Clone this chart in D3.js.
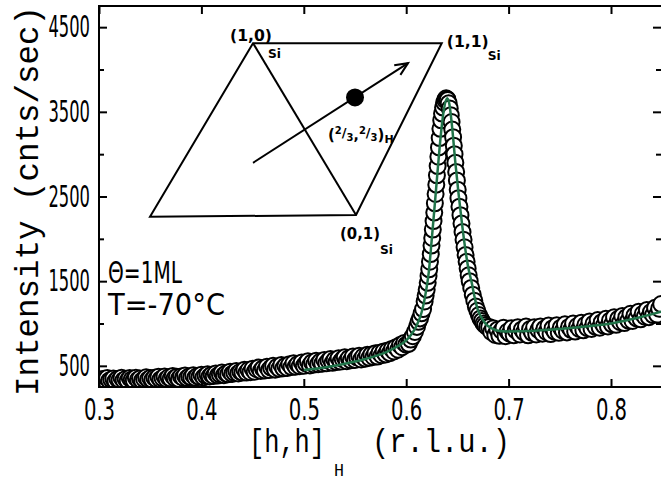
<!DOCTYPE html>
<html>
<head>
<meta charset="utf-8">
<script src="https://cdnjs.cloudflare.com/ajax/libs/d3/7.8.5/d3.min.js"></script>
<style>
  body { margin: 0; background: #fff; }
  text { fill: #000; }
</style>
</head>
<body>
<div id="chart"></div>
<script>

// axis ticks
var xTicks = [0.3, 0.4, 0.5, 0.6, 0.7, 0.8];
var yMajor = [500, 1500, 2500, 3500, 4500];
var yMinor = [1000, 2000, 3000, 4000];

// measured scan [h, intensity]
var scanLow = [
  [0.300,340],[0.302,320],[0.304,345],[0.306,330],[0.308,355],[0.310,325],[0.312,340],[0.314,350],
  [0.316,320],[0.318,345],[0.320,335],[0.322,360],[0.324,330],[0.326,345],[0.328,325],[0.330,355],
  [0.332,340],[0.334,330],[0.336,360],[0.338,335],[0.340,350],[0.342,325],[0.344,345],[0.346,365],
  [0.348,340],[0.350,355],[0.352,335],[0.354,360],[0.356,345],[0.358,370],[0.360,340],[0.362,355],
  [0.364,375],[0.366,345],[0.368,365],[0.370,350],[0.372,380],[0.374,355],[0.376,370],[0.378,345],
  [0.380,375],[0.382,360],[0.384,385],[0.386,355],[0.388,375],[0.390,365],[0.392,390],[0.394,360],
  [0.396,380],[0.398,370],[0.400,395],[0.402,365],[0.404,385],[0.406,400],[0.408,375],[0.410,395],
  [0.412,380],[0.414,410],[0.416,385],[0.418,400],[0.420,420],[0.422,390],[0.424,410],[0.426,400],
  [0.428,430],[0.430,405],[0.432,420],[0.434,440],[0.436,410],[0.438,430],[0.440,420],[0.442,455],
  [0.444,420],[0.446,450],[0.448,425],[0.450,465],[0.452,430],[0.454,460],[0.456,480],[0.458,440],
  [0.460,470],[0.462,445],[0.464,490],[0.466,450],[0.468,480],[0.470,500],[0.472,455],[0.474,490],
  [0.476,465],[0.478,510],[0.480,470],[0.482,500],[0.484,475],[0.486,520],[0.488,485],[0.490,530],
  [0.492,490],[0.494,520],[0.496,495],[0.498,540],[0.500,500],[0.502,530],[0.504,555],[0.506,505],
  [0.508,540],[0.510,515],[0.512,560],[0.514,520],[0.516,550],[0.518,525],[0.520,570],[0.522,530],
  [0.524,560],[0.526,580],[0.528,535],[0.530,570],[0.532,545],[0.534,590],[0.536,550],[0.538,580],
  [0.540,600],[0.542,555],[0.544,590],[0.546,565],[0.548,610],[0.550,570],[0.552,600],[0.554,620],
  [0.556,575],[0.558,610],[0.560,585],[0.562,630],[0.564,595],[0.566,635],[0.568,605],[0.570,650],
  [0.572,610],[0.574,655],[0.576,625],[0.578,670],[0.580,635],[0.582,680],[0.584,650],[0.586,700],
  [0.588,670],[0.590,720],[0.592,690],[0.594,745],[0.596,720],[0.598,770],[0.600,750]
];

var scanPeak = [
  [0.6025,760],[0.6045,810],[0.6065,850],[0.6085,900],[0.6105,960],[0.612,1020],[0.6135,1060],
  [0.615,1120],[0.6165,1170],[0.618,1260],[0.619,1330],[0.620,1400],[0.621,1480],[0.6218,1560],
  [0.6225,1640],[0.6232,1730],[0.624,1820],[0.6247,1920],[0.6254,2010],[0.626,2110],[0.6267,2210],
  [0.6274,2310],[0.628,2420],[0.6287,2530],[0.6294,2640],[0.630,2750],[0.6307,2860],[0.6314,2970],
  [0.632,3080],[0.6327,3190],[0.6334,3300],[0.6342,3400],[0.635,3480],[0.636,3550],[0.637,3610],
  [0.638,3640],[0.639,3660],[0.640,3650],
  [0.6405,3640],[0.6415,3600],[0.6425,3540],[0.6435,3460],[0.6443,3380],[0.645,3290],[0.6458,3200],
  [0.6465,3100],[0.6472,3000],[0.648,2900],[0.6488,2790],[0.6495,2690],[0.6503,2580],[0.651,2480],
  [0.652,2380],[0.653,2280],[0.654,2180],[0.655,2080],[0.656,1990],[0.657,1900],[0.658,1810],
  [0.659,1730],[0.660,1650],[0.661,1570],[0.662,1500],[0.6635,1420],[0.665,1340],[0.6665,1270],
  [0.668,1200],[0.6695,1150],[0.671,1100],[0.6725,1060],[0.674,1030],[0.6755,1000],[0.677,980],
  [0.679,960]
];

var scanHigh = [
  [0.681,960],[0.683,900],[0.685,945],[0.687,865],[0.689,925],[0.691,855],[0.693,915],[0.695,950],
  [0.697,850],[0.699,905],[0.701,880],[0.703,945],[0.705,860],[0.707,920],[0.709,955],[0.711,870],
  [0.713,930],[0.715,895],[0.717,965],[0.719,860],[0.721,935],[0.723,890],[0.725,955],[0.727,870],
  [0.729,925],[0.731,965],[0.733,880],[0.735,940],[0.737,900],[0.739,975],[0.741,875],[0.743,945],
  [0.745,905],[0.747,980],[0.749,890],[0.751,950],[0.753,915],[0.755,990],[0.757,895],[0.759,960],
  [0.761,925],[0.763,1000],[0.765,905],[0.767,970],[0.769,935],[0.771,1010],[0.773,920],[0.775,985],
  [0.777,945],[0.779,1025],[0.781,935],[0.783,1000],[0.785,960],[0.787,1040],[0.789,950],[0.791,1015],
  [0.793,975],[0.795,1055],[0.797,965],[0.799,1035],[0.801,990],[0.803,1075],[0.805,985],[0.807,1055],
  [0.809,1015],[0.811,1090],[0.813,1005],[0.815,1075],[0.817,1035],[0.819,1115],[0.821,1030],[0.823,1095],
  [0.825,1060],[0.827,1140],[0.829,1050],[0.831,1115],[0.833,1080],[0.835,1160],[0.837,1075],[0.839,1135],
  [0.841,1100],[0.843,1185],[0.845,1105],[0.847,1175],[0.849,1230]
];

// fitted curve [h, intensity]
var fit = [
  [0.500,450],[0.520,480],[0.540,525],[0.560,580],[0.580,660],[0.590,720],[0.600,800],[0.605,870],
  [0.610,970],[0.615,1130],[0.618,1290],[0.622,1600],[0.625,2000],[0.628,2420],[0.631,2850],
  [0.634,3250],[0.637,3540],[0.640,3660],[0.642,3600],[0.645,3300],[0.648,2900],[0.651,2550],
  [0.654,2230],[0.657,1940],[0.660,1700],[0.664,1480],[0.667,1300],[0.670,1160],[0.674,1060],
  [0.678,990],[0.684,940],[0.690,915],[0.700,905],[0.720,910],[0.750,935],[0.780,970],[0.800,1000],
  [0.820,1050],[0.849,1140]
];

// inset sketch of the reciprocal cell, in plot units
var cellCorners = [[0.3498,2261],[0.4504,4311],[0.6347,4311],[0.5510,2281]];
var scanArrow = [[0.4504,2898],[0.6018,4075]];
var spot = [0.550,3670];

var scan = scanLow.concat(scanPeak, scanHigh);

var monoFont = "'Liberation Mono', 'DejaVu Sans Mono', monospace";
var numFont = "'DejaVu Sans', sans-serif";

var width = 661, height = 483;
var margin = {top: 6, left: 99, bottom: 387, right: 662};

var x = d3.scaleLinear().domain([0.3, 0.8498]).range([margin.left, margin.right]);
var y = d3.scaleLinear().domain([250, 4750]).range([margin.bottom, margin.top]);

var svg = d3.select("#chart").append("svg")
    .attr("width", width)
    .attr("height", height);

svg.append("clipPath").attr("id", "plotclip")
  .append("rect")
    .attr("x", margin.left).attr("y", margin.top)
    .attr("width", margin.right - margin.left)
    .attr("height", margin.bottom - margin.top);

var plot = svg.append("g").attr("clip-path", "url(#plotclip)");

plot.selectAll(".dot")
    .data(scan)
  .enter().append("circle")
    .attr("class", "dot")
    .attr("cx", function(d) { return x(d[0]); })
    .attr("cy", function(d) { return y(d[1]); })
    .attr("r", 8)
    .style("fill", "#fff")
    .style("stroke", "#000")
    .style("stroke-width", 2);

var line = d3.line()
    .x(function(d) { return x(d[0]); })
    .y(function(d) { return y(d[1]); })
    .curve(d3.curveMonotoneX);

plot.append("path")
    .datum(fit)
    .attr("d", line)
    .style("fill", "none")
    .style("stroke", "#21744a")
    .style("stroke-width", 2.5);

// frame
svg.append("rect")
    .attr("x", margin.left).attr("y", margin.top)
    .attr("width", margin.right - margin.left)
    .attr("height", margin.bottom - margin.top)
    .style("fill", "none")
    .style("stroke", "#000")
    .style("stroke-width", 2);

function styleAxis(g) {
  g.select(".domain").remove();
  g.selectAll(".tick line").style("stroke", "#000").style("stroke-width", 2);
  g.selectAll("text")
    .style("font-family", numFont)
    .style("font-size", "30px")
    .attr("lengthAdjust", "spacingAndGlyphs")
    .attr("textLength", function() { return this.textContent.length * 10.4; });
}

svg.append("g")
    .attr("transform", "translate(0," + margin.bottom + ")")
    .call(d3.axisBottom(x).tickValues(xTicks).tickSize(-8).tickPadding(12).tickFormat(d3.format(".1f")))
    .call(styleAxis);

svg.append("g")
    .attr("transform", "translate(0," + margin.top + ")")
    .call(d3.axisTop(x).tickValues(xTicks).tickSize(-8).tickFormat(""))
    .call(styleAxis);

svg.append("g")
    .attr("transform", "translate(" + margin.left + ",0)")
    .call(d3.axisLeft(y).tickValues(yMajor).tickSize(-8).tickPadding(9).tickFormat(d3.format("d")))
    .call(styleAxis);

svg.append("g")
    .attr("transform", "translate(" + margin.left + ",0)")
    .call(d3.axisLeft(y).tickValues(yMinor).tickSize(-5).tickFormat(""))
    .call(styleAxis);

svg.append("g")
    .attr("transform", "translate(" + (margin.right - 1) + ",0)")
    .call(d3.axisRight(y).tickValues(yMajor).tickSize(-8).tickFormat(""))
    .call(styleAxis);

svg.append("g")
    .attr("transform", "translate(" + (margin.right - 1) + ",0)")
    .call(d3.axisRight(y).tickValues(yMinor).tickSize(-5).tickFormat(""))
    .call(styleAxis);

function addText(px, py, txt, family, size, len) {
  return svg.append("text").attr("x", px).attr("y", py)
    .style("font-family", family).style("font-size", size + "px")
    .attr("textLength", len).attr("lengthAdjust", "spacingAndGlyphs")
    .text(txt);
}

// axis titles
addText(0, 0, "Intensity (cnts/sec)", monoFont, 34, 390)
    .attr("transform", "translate(38,201) rotate(-90)")
    .attr("text-anchor", "middle");

addText(249, 452, "[h,h]", monoFont, 33, 76);
addText(334, 476, "H", monoFont, 19, 10);
addText(372, 452, "(r.l.u.)", monoFont, 33, 138);

// legend text
addText(108, 283, "\u0398=1ML", numFont, 30, 74);
addText(108, 315, "T=-70\u00b0C", numFont, 30, 117);

// inset
var inset = svg.append("g").style("stroke", "#000").style("stroke-width", 2).style("fill", "none");
var pts = cellCorners.map(function(d) { return [x(d[0]), y(d[1])]; });

inset.append("path").attr("d", d3.line()(pts) + "Z");
inset.append("line")
    .attr("x1", pts[1][0]).attr("y1", pts[1][1])
    .attr("x2", pts[3][0]).attr("y2", pts[3][1]);

var a0 = [x(scanArrow[0][0]), y(scanArrow[0][1])];
var a1 = [x(scanArrow[1][0]), y(scanArrow[1][1])];
var ang = Math.atan2(a1[1] - a0[1], a1[0] - a0[0]);
inset.append("line")
    .attr("x1", a0[0]).attr("y1", a0[1]).attr("x2", a1[0]).attr("y2", a1[1]);
inset.append("path")
    .attr("d", "M" + (a1[0] - 14 * Math.cos(ang - 0.42)) + "," + (a1[1] - 14 * Math.sin(ang - 0.42)) +
               "L" + a1[0] + "," + a1[1] +
               "L" + (a1[0] - 14 * Math.cos(ang + 0.42)) + "," + (a1[1] - 14 * Math.sin(ang + 0.42)));

svg.append("circle")
    .attr("cx", x(spot[0])).attr("cy", y(spot[1])).attr("r", 9)
    .style("fill", "#000");

function label(px, py, txt, size, len) {
  return addText(px, py, txt, numFont, size, len).style("font-weight", "bold");
}
label(pts[1][0] - 23, pts[1][1] - 2, "(1,0)", 15, 42);
label(pts[1][0] + 15, pts[1][1] + 15, "Si", 13, 13);
label(pts[2][0] + 5, pts[2][1] + 4, "(1,1)", 15, 42);
label(pts[2][0] + 46, pts[2][1] + 17, "Si", 13, 13);
label(pts[3][0] - 16, pts[3][1] + 24, "(0,1)", 15, 40);
label(pts[3][0] + 24, pts[3][1] + 39, "Si", 13, 13);

var hk = svg.append("text")
    .attr("x", x(spot[0]) - 27).attr("y", y(spot[1]) + 43)
    .style("font-family", numFont)
    .style("font-weight", "bold");
var parts = [["(",15,0],["2",10,-6],["/",13,3],["3",10,4],[",",14,-1],
             ["2",10,-6],["/",13,3],["3",10,4],[")",15,-1],["H",11,3]];
parts.forEach(function(p) {
  hk.append("tspan").style("font-size", p[1] + "px").attr("dy", p[2]).text(p[0]);
});

</script>
</body>
</html>
